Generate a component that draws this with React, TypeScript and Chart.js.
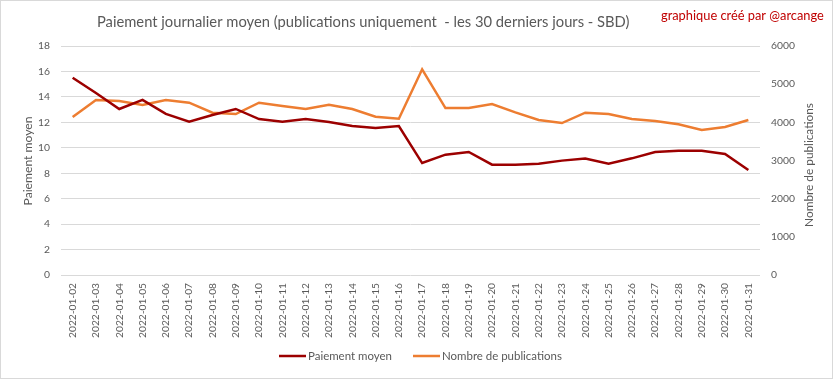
import React, { useEffect, useRef } from "react";
import { Chart, registerables } from "chart.js";

Chart.register(...registerables);

const dates = [
  "2022-01-02", "2022-01-03", "2022-01-04", "2022-01-05", "2022-01-06", "2022-01-07",
  "2022-01-08", "2022-01-09", "2022-01-10", "2022-01-11", "2022-01-12", "2022-01-13",
  "2022-01-14", "2022-01-15", "2022-01-16", "2022-01-17", "2022-01-18", "2022-01-19",
  "2022-01-20", "2022-01-21", "2022-01-22", "2022-01-23", "2022-01-24", "2022-01-25",
  "2022-01-26", "2022-01-27", "2022-01-28", "2022-01-29", "2022-01-30", "2022-01-31",
];

const paiementMoyen = [
  15.5, 14.3, 13.05, 13.76, 12.66, 12.05, 12.58, 13.05, 12.26, 12.05, 12.26, 12.03,
  11.71, 11.56, 11.71, 8.8, 9.46, 9.67, 8.67, 8.67, 8.75, 8.99, 9.15, 8.75,
  9.17, 9.67, 9.77, 9.77, 9.51, 8.25,
];

const nombrePublications = [
  4140, 4585, 4559, 4454, 4585, 4515, 4253, 4218, 4515, 4428, 4349, 4463,
  4349, 4148, 4095, 5389, 4375, 4375, 4480, 4262, 4061, 3982, 4253, 4218,
  4087, 4035, 3948, 3799, 3878, 4061,
];

const titleText = "Paiement journalier moyen (publications uniquement  - les 30 derniers jours - SBD)";
const creditText = "graphique créé par @arcange";
const leftTitle = "Paiement moyen";
const rightTitle = "Nombre de publications";

const FONT = "Lato, 'Noto Sans', sans-serif";
const GRAY = "#595959";
const DARKRED = "#9c0000";
const ORANGE = "#ed7d31";

function fitSize(text: string, target: number): number {
  const c = document.createElement("canvas").getContext("2d")!;
  c.font = `20px ${FONT}`;
  const w = c.measureText(text).width;
  return (20 * target) / w;
}

export default function App() {
  const ref = useRef<HTMLCanvasElement>(null);
  useEffect(() => {
    if (!ref.current) return;
    const sTitle = fitSize(titleText, 533);
    const sCredit = fitSize(creditText, 163);
    const sLeft = fitSize(leftTitle, 89);
    const sRight = fitSize(rightTitle, 124);
    const sX = fitSize(dates[0], 55);
    const sY = fitSize("6000", 24);

    const decorPlugin = {
      id: "decor",
      afterDraw(chart: any) {
        const { ctx, chartArea } = chart;
        const midY = (chartArea.top + chartArea.bottom) / 2;
        ctx.save();
        ctx.strokeStyle = "#d9d9d9";
        ctx.lineWidth = 1;
        ctx.strokeRect(0.5, 0.5, chart.width - 1, chart.height - 1);

        ctx.textBaseline = "middle";
        ctx.fillStyle = GRAY;
        ctx.font = `${sTitle}px ${FONT}`;
        ctx.textAlign = "left";
        ctx.fillText(titleText, 97, 22);

        ctx.fillStyle = "#c00000";
        ctx.font = `${sCredit}px ${FONT}`;
        ctx.fillText(creditText, 661, 16);

        ctx.fillStyle = GRAY;
        ctx.textAlign = "center";
        ctx.save();
        ctx.font = `${sLeft}px ${FONT}`;
        ctx.translate(28, 161);
        ctx.rotate(-Math.PI / 2);
        ctx.fillText(leftTitle, 0, 0);
        ctx.restore();

        ctx.save();
        ctx.font = `${sRight}px ${FONT}`;
        ctx.translate(809, 165);
        ctx.rotate(-Math.PI / 2);
        ctx.fillText(rightTitle, 0, 0);
        ctx.restore();

        // legend
        const items = [
          { x: 279, ds: chart.data.datasets[0] },
          { x: 413, ds: chart.data.datasets[1] },
        ];
        const legY = 356;
        ctx.font = `${fitSize("Paiement moyen", 84)}px ${FONT}`;
        const legSize = fitSize("Paiement moyen", 84);
        ctx.font = `${legSize}px ${FONT}`;
        ctx.textAlign = "left";
        items.forEach((it) => {
          ctx.strokeStyle = it.ds.borderColor;
          ctx.lineWidth = 2.5;
          ctx.beginPath();
          ctx.moveTo(it.x, legY);
          ctx.lineTo(it.x + 27, legY);
          ctx.stroke();
          ctx.fillStyle = GRAY;
          ctx.fillText(it.ds.label, it.x + 29, legY);
        });
        ctx.restore();
      },
    };

    const chart = new Chart(ref.current, {
      type: "line",
      data: {
        labels: dates,
        datasets: [
          {
            label: "Paiement moyen",
            data: paiementMoyen,
            borderColor: DARKRED,
            backgroundColor: DARKRED,
            borderWidth: 2.5,
            pointRadius: 0,
            tension: 0,
            yAxisID: "y",
          },
          {
            label: "Nombre de publications",
            data: nombrePublications,
            borderColor: ORANGE,
            backgroundColor: ORANGE,
            borderWidth: 2.5,
            pointRadius: 0,
            tension: 0,
            yAxisID: "y1",
          },
        ],
      },
      options: {
        responsive: false,
        animation: false,
        layout: { padding: { top: 46, bottom: 0, left: 0, right: 0 } },
        plugins: {
          title: { display: false },
          tooltip: { enabled: false },
          legend: { display: false },
        },
        scales: {
          x: {
            offset: true,
            grid: { display: false, drawTicks: false },
            border: { display: false },
            ticks: {
              color: GRAY,
              font: { family: FONT, size: sX },
              minRotation: 90,
              maxRotation: 90,
              padding: 8,
              autoSkip: false,
            },
            afterFit: (s: any) => {
              s.height = 104;
            },
          },
          y: {
            position: "left",
            min: 0,
            max: 18,
            grid: { color: "#d9d9d9", lineWidth: 1, drawTicks: false },
            border: { display: false },
            ticks: {
              stepSize: 2,
              color: GRAY,
              font: { family: FONT, size: sY },
              padding: 11,
            },
            afterFit: (s: any) => {
              s.width = 61;
            },
          },
          y1: {
            position: "right",
            min: 0,
            max: 6000,
            grid: { display: false, drawTicks: false },
            border: { display: false },
            ticks: {
              stepSize: 1000,
              color: GRAY,
              font: { family: FONT, size: sY },
              padding: 11,
              callback: (v: any) => String(v),
            },
            afterFit: (s: any) => {
              s.width = 73;
            },
          },
        },
      },
      plugins: [decorPlugin],
    });
    return () => chart.destroy();
  }, []);
  return (
    <canvas
      ref={ref}
      width={833}
      height={379}
      style={{ position: "absolute", left: 0, top: 0, display: "block" }}
    />
  );
}
